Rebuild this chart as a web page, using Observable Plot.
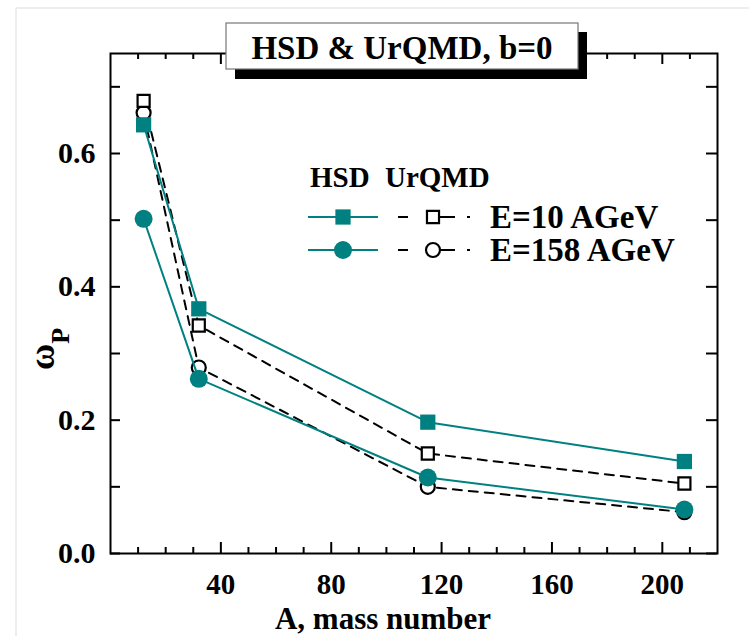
<!DOCTYPE html>
<html>
<head>
<meta charset="utf-8">
<script src="https://cdn.jsdelivr.net/npm/d3@7"></script>
<script src="https://cdn.jsdelivr.net/npm/@observablehq/plot@0.6"></script>
<style>
  html, body { margin: 0; padding: 0; background: #fff; }
  #chart { position: relative; width: 749px; height: 636px; }
</style>
</head>
<body>
<div id="chart"></div>
<script>
// ---- data ----
const massNumber = [12, 32, 115, 208];
const hsd10    = [0.643, 0.367, 0.197, 0.138];
const urqmd10  = [0.679, 0.342, 0.150, 0.105];
const hsd158   = [0.502, 0.262, 0.114, 0.066];
const urqmd158 = [0.661, 0.279, 0.100, 0.062];

const xTicks = [40, 80, 120, 160, 200];
const xMinor = [10, 20, 30, 50, 60, 70, 90, 100, 110, 130, 140, 150, 170, 180, 190, 210];
const yTicks = [0.0, 0.2, 0.4, 0.6];
const yMinor = [0.1, 0.3, 0.5, 0.7];

const titleText = "HSD & UrQMD, b=0";
const xLabel = "A, mass number";
const legendHeader = ["HSD", "UrQMD"];
const legendRows = ["E=10 AGeV", "E=158 AGeV"];

// ---- layout ----
const W = 749, H = 636;
const mL = 110, mR = 32, mT = 53, mB = 83;
const iW = W - mL - mR, iH = H - mT - mB;
const teal = "#008080";
const font = "Liberation Serif, Times New Roman, serif";

const toRows = (ys) => massNumber.map((a, i) => ({a, w: ys[i]}));
const dU10 = toRows(urqmd10), dU158 = toRows(urqmd158);
const dH10 = toRows(hsd10), dH158 = toRows(hsd158);

const chart = Plot.plot({
  width: W, height: H,
  marginLeft: mL, marginRight: mR, marginTop: mT, marginBottom: mB,
  x: {domain: [0, 220], axis: null},
  y: {domain: [0, 0.75], axis: null},
  style: {fontFamily: font, fontWeight: "bold", background: "#fff", color: "black"},
  marks: [
    // ticks (inward, on all four sides)
    Plot.tickX(xTicks, {x: d => d, insetTop: iH - 11, stroke: "black", strokeWidth: 2}),
    Plot.tickX(xMinor, {x: d => d, insetTop: iH - 6, stroke: "black", strokeWidth: 2}),
    Plot.tickX(xTicks, {x: d => d, insetBottom: iH - 11, stroke: "black", strokeWidth: 2}),
    Plot.tickX(xMinor, {x: d => d, insetBottom: iH - 6, stroke: "black", strokeWidth: 2}),
    Plot.tickY(yTicks.concat(yMinor), {y: d => d, insetRight: iW - 10, stroke: "black", strokeWidth: 2}),
    Plot.tickY(yTicks.concat(yMinor), {y: d => d, insetLeft: iW - 11, stroke: "black", strokeWidth: 2}),
    Plot.frame({stroke: "black", strokeWidth: 2}),
    Plot.axisX({ticks: xTicks, tickSize: 0, tickPadding: 20, fontSize: 29, fontWeight: "bold", label: null}),
    Plot.axisY({ticks: yTicks, tickSize: 0, tickPadding: 15, fontSize: 30, fontWeight: "bold", tickFormat: d3.format(".1f"), label: null}),
    // UrQMD (dashed, open symbols)
    Plot.line(dU10, {x: "a", y: "w", stroke: "black", strokeWidth: 2, strokeDasharray: "9,7"}),
    Plot.line(dU158, {x: "a", y: "w", stroke: "black", strokeWidth: 2, strokeDasharray: "9,7"}),
    Plot.dot(dU158, {x: "a", y: "w", symbol: "circle", r: 7, fill: "white", stroke: "black", strokeWidth: 2.2}),
    Plot.dot(dU10, {x: "a", y: "w", symbol: "square", r: 6.8, fill: "white", stroke: "black", strokeWidth: 2.2}),
    // HSD (solid teal, filled symbols)
    Plot.line(dH10, {x: "a", y: "w", stroke: teal, strokeWidth: 2}),
    Plot.line(dH158, {x: "a", y: "w", stroke: teal, strokeWidth: 2}),
    Plot.dot(dH10, {x: "a", y: "w", symbol: "square", r: 8.6, fill: teal, stroke: "none"}),
    Plot.dot(dH158, {x: "a", y: "w", symbol: "circle", r: 9, fill: teal, stroke: "none"})
  ]
});

document.getElementById("chart").appendChild(chart);
const svg = d3.select(chart);

// faint page border lines seen in the reference
svg.append("line").attr("x1", 16).attr("x2", 16).attr("y1", 8).attr("y2", H)
  .attr("stroke", "#e8e8e8").attr("stroke-width", 1.5);
svg.append("line").attr("x1", 16).attr("x2", W).attr("y1", 8).attr("y2", 8)
  .attr("stroke", "#e8e8e8").attr("stroke-width", 1.5);

// title box with shadow
const tb = svg.append("g");
tb.append("rect").attr("x", 235).attr("y", 32).attr("width", 352).attr("height", 47).attr("fill", "black");
tb.append("rect").attr("x", 226).attr("y", 23).attr("width", 352).attr("height", 46)
  .attr("fill", "white").attr("stroke", "#777").attr("stroke-width", 1.2);
tb.append("text").attr("x", 402).attr("y", 59).attr("text-anchor", "middle")
  .attr("font-family", font).attr("font-weight", "bold").attr("font-size", 33).text(titleText);

// x label
svg.append("text").attr("x", 383).attr("y", 629).attr("text-anchor", "middle")
  .attr("font-family", font).attr("font-weight", "bold").attr("font-size", 31).text(xLabel);

// y label omega_P
const yl = svg.append("text").attr("transform", "translate(54,370) rotate(-90)")
  .attr("text-anchor", "start")
  .attr("font-family", font).attr("font-weight", "bold");
yl.append("tspan").attr("font-size", 36).text("ω");
yl.append("tspan").attr("font-size", 26).attr("dy", 15).text("P");

// legend
const lg = svg.append("g").attr("font-family", font).attr("font-weight", "bold").attr("text-anchor", "start");
lg.append("text").attr("x", 310).attr("y", 187).attr("font-size", 29).text(legendHeader[0]);
lg.append("text").attr("x", 385).attr("y", 187).attr("font-size", 29).text(legendHeader[1]);
const rowY = [217, 250];
const sq = (r) => d3.symbol(d3.symbolSquare, Math.PI * r * r)();
const ci = (r) => d3.symbol(d3.symbolCircle, Math.PI * r * r)();
rowY.forEach((y, i) => {
  lg.append("line").attr("x1", 308).attr("x2", 378).attr("y1", y).attr("y2", y)
    .attr("stroke", teal).attr("stroke-width", 2);
  lg.append("path").attr("d", i === 0 ? sq(8.6) : ci(9)).attr("transform", `translate(343,${y})`)
    .attr("fill", teal);
  lg.append("line").attr("x1", 398).attr("x2", 470).attr("y1", y).attr("y2", y)
    .attr("stroke", "black").attr("stroke-width", 2).attr("stroke-dasharray", "10,18,29,12,3,100");
  lg.append("path").attr("d", i === 0 ? sq(6.8) : ci(7)).attr("transform", `translate(433,${y})`)
    .attr("fill", "white").attr("stroke", "black").attr("stroke-width", 2.2);
  lg.append("text").attr("x", 490).attr("y", y + 11).attr("font-size", 33).text(legendRows[i]);
});
</script>
</body>
</html>
